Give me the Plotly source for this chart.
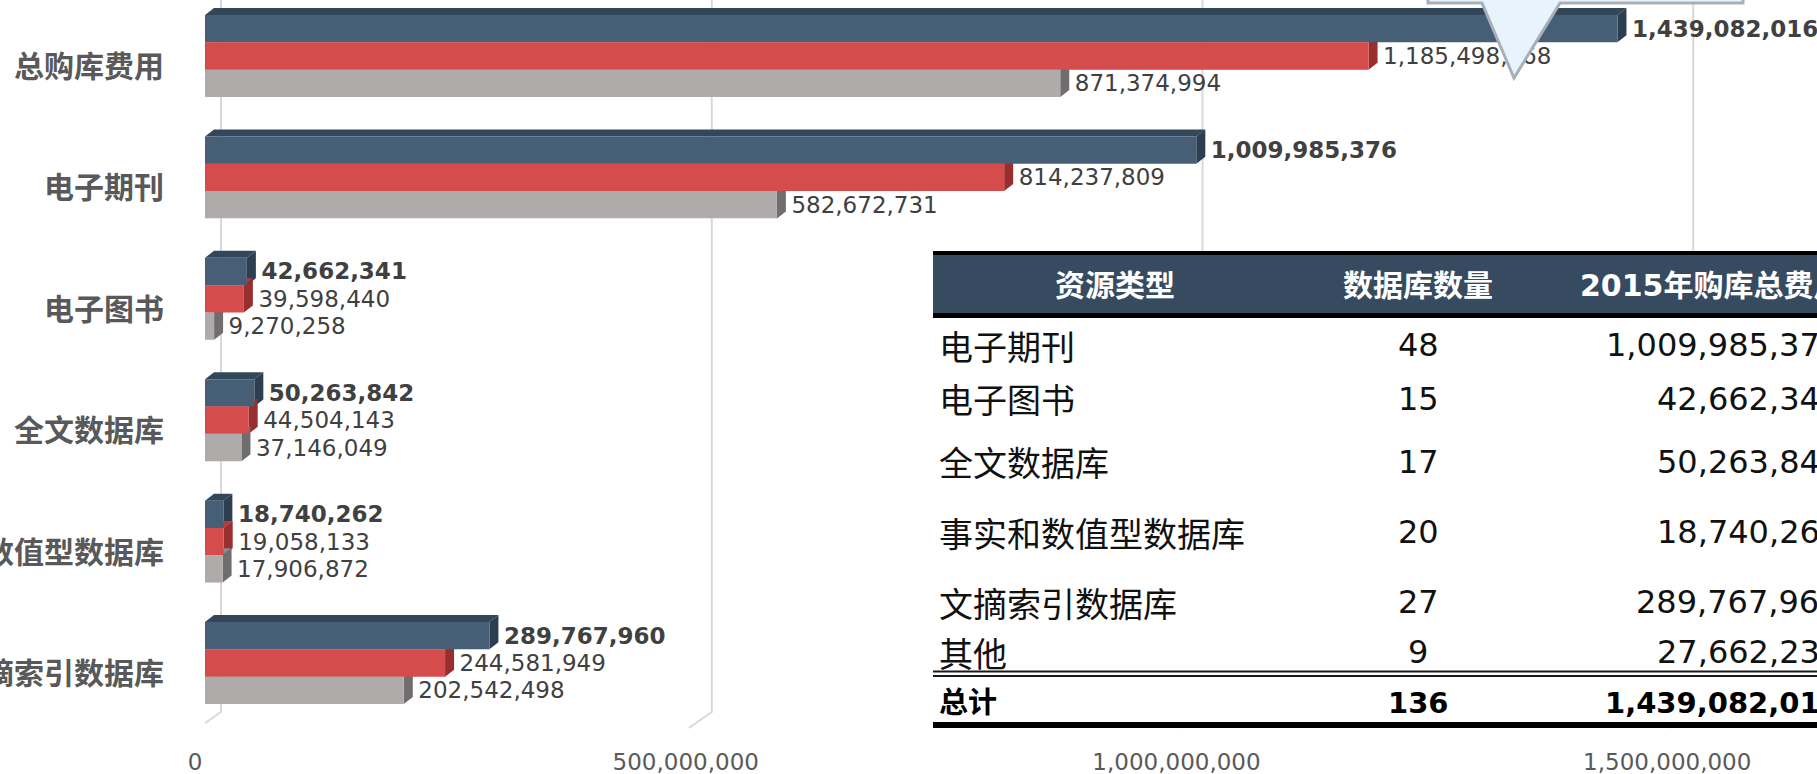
import plotly.graph_objects as go

# chart data
categories = ["总购库费用", "电子期刊", "电子图书", "全文数据库", "事实和数值型数据库", "文摘索引数据库"]
series_names = ["2015年", "2014年", "2013年"]
fees_2015 = [1439082016, 1009985376, 42662341, 50263842, 18740262, 289767960]
fees_2014 = [1185498768, 814237809, 39598440, 44504143, 19058133, 244581949]
fees_2013 = [871374994, 582672731, 9270258, 37146049, 17906872, 202542498]
x_ticks = [0, 500000000, 1000000000, 1500000000]

# table data
table_header = ["资源类型", "数据库数量", "2015年购库总费用"]
table_types = ["电子期刊", "电子图书", "全文数据库", "事实和数值型数据库", "文摘索引数据库", "其他"]
table_counts = [48, 15, 17, 20, 27, 9]
table_fees = [1009985376, 42662341, 50263842, 18740262, 289767960, 27662235]
total_label = "总计"

# page geometry (px)
W, H = 1817, 774
L, T, B = 205, 0, 44
PW, PH = W - L, H - T - B
PX_PER_UNIT = 981.5e-9
X_MAX = PW / PX_PER_UNIT
Y0, PITCH = 56, 121.4
BARGAP = 0.325
DX, DY = 9, 7  # 3d depth of the boxes

NUM_FONT = "DejaVu Sans"
CJK_FONT = "Noto Sans CJK SC"


def px(x):
    return (x - L) / PW


def py(y):
    return (H - B - y) / PH


front = ["#465e76", "#d64b4b", "#afabaa"]
side = ["#2c3e50", "#992e2e", "#6f6d6d"]
top = ["#33475a", "#b23d3d", "#8e8a89"]

ypos = list(range(len(categories)))
series = [fees_2015, fees_2014, fees_2013]

fig = go.Figure()
for k, (name, vals) in enumerate(zip(series_names, series)):
    fig.add_trace(
        go.Bar(
            x=vals,
            y=ypos,
            name=name,
            orientation="h",
            marker=dict(color=front[k], line=dict(width=0)),
            texttemplate="\u2002%{x:,}",
            textposition="outside",
            textfont=dict(family=NUM_FONT, size=23, color="#404040",
                          weight="bold" if k == 0 else "normal"),
            constraintext="none",
            cliponaxis=False,
            hoverinfo="skip",
        )
    )

shapes = []

# back-wall gridlines with a bit of floor perspective
for t in x_ticks:
    shapes.append(dict(
        type="path", layer="below", xref="x", xsizemode="pixel", xanchor=t,
        yref="paper", ysizemode="pixel", yanchor=0,
        path=f"M 16,{PH} L 16,{H - B - 712} L -7,{H - B - 728}",
        line=dict(color="#d9d9d9", width=2),
    ))

# top and side faces of the 3d boxes
w = (1 - BARGAP) / 3
h = w * PITCH / 2
d_data = DX / PX_PER_UNIT
for k, vals in enumerate(series):
    for i, v in enumerate(vals):
        yc = i + (k - 1) * w
        shapes.append(dict(
            type="path", layer="below", xref="x", yref="y",
            ysizemode="pixel", yanchor=yc,
            path=f"M 0,{h} L {d_data},{h + DY} L {v + d_data},{h + DY} L {v},{h} Z",
            fillcolor=top[k], line=dict(width=0),
        ))
        shapes.append(dict(
            type="path", layer="below", xref="x", yref="y",
            xsizemode="pixel", xanchor=v, ysizemode="pixel", yanchor=yc,
            path=f"M 0,{h} L {DX},{h + DY} L {DX},{-h + DY} L 0,{-h} Z",
            fillcolor=side[k], line=dict(width=0),
        ))

# callout pointer at the top
pts = [(1428, -60), (1428, 3), (1482, 3), (1514, 78), (1560, 3), (1743, 3), (1743, -60)]
shapes.append(dict(
    type="path", layer="above", xref="paper", yref="paper",
    path="M " + " L ".join(f"{px(a):.5f},{py(b):.5f}" for a, b in pts) + " Z",
    fillcolor="#e8f4fc", line=dict(color="#a8afb6", width=3),
))


def rect(y0, y1, color, x0=933, x1=1900):
    return dict(type="rect", layer="above", xref="paper", yref="paper",
                x0=px(x0), x1=px(x1), y0=py(y1), y1=py(y0),
                fillcolor=color, line=dict(width=0))


# table frame
shapes += [
    rect(251, 728, "white"),
    rect(251, 255, "black"),
    rect(255, 313, "#364b5f"),
    rect(313, 318, "black"),
    rect(670.5, 672.5, "#1a1a1a"),
    rect(675, 677, "#1a1a1a"),
    rect(722, 728, "black"),
]

annotations = []

# category labels
for i, c in enumerate(categories):
    annotations.append(dict(
        x=px(166), xref="paper", xanchor="right", y=i, yref="y", yanchor="middle",
        yshift=-8, text=c, showarrow=False,
        font=dict(family=CJK_FONT, size=30, color="#595959", weight="bold"),
    ))


def cell(x, y, anchor, txt, font):
    return dict(x=px(x), xref="paper", xanchor=anchor, y=py(y), yref="paper",
                yanchor="middle", text=txt, showarrow=False, font=font)


# table text
head_font = dict(family=f"{NUM_FONT}, {CJK_FONT}", size=30, color="white", weight="bold")
head_x = [(1115, "center"), (1418, "center"), (1578, "left")]
for (x, anchor), txt in zip(head_x, table_header):
    annotations.append(cell(x, 286, anchor, txt, head_font))

name_font = dict(family=CJK_FONT, size=34, color="#111111")
num_font = dict(family=NUM_FONT, size=32, color="#111111")
row_y = [345, 399, 462, 532, 602, 652]
for y, name, cnt, fee in zip(row_y, table_types, table_counts, table_fees):
    annotations += [
        cell(937, y, "left", name, name_font),
        cell(1418, y, "center", str(cnt), num_font),
        cell(1842, y, "right", f"{fee:,}", num_font),
    ]

total_font = dict(family=f"{NUM_FONT}, {CJK_FONT}", size=29, color="black", weight="bold")
annotations += [
    cell(937, 703, "left", total_label, total_font),
    cell(1418, 703, "center", str(sum(table_counts)), total_font),
    cell(1842, 703, "right", f"{sum(table_fees):,}", total_font),
]

fig.update_layout(
    width=W,
    height=H,
    margin=dict(l=L, r=0, t=T, b=B),
    barmode="group",
    bargap=BARGAP,
    bargroupgap=0,
    showlegend=False,
    paper_bgcolor="white",
    plot_bgcolor="white",
    shapes=shapes,
    annotations=annotations,
    xaxis=dict(
        range=[0, X_MAX],
        tickvals=x_ticks,
        tickformat=",",
        showgrid=False,
        zeroline=False,
        showline=False,
        ticks="",
        tickfont=dict(family=NUM_FONT, size=23, color="#595959"),
        ticklabelshift=-10,
        ticklabelstandoff=16,
    ),
    yaxis=dict(
        range=[(PH - Y0) / PITCH, -Y0 / PITCH],
        showticklabels=False,
        showgrid=False,
        zeroline=False,
        showline=False,
    ),
)

fig.write_html(
    "out.html",
    config={"displayModeBar": False},
    post_script="document.body.style.margin='0';",
)
